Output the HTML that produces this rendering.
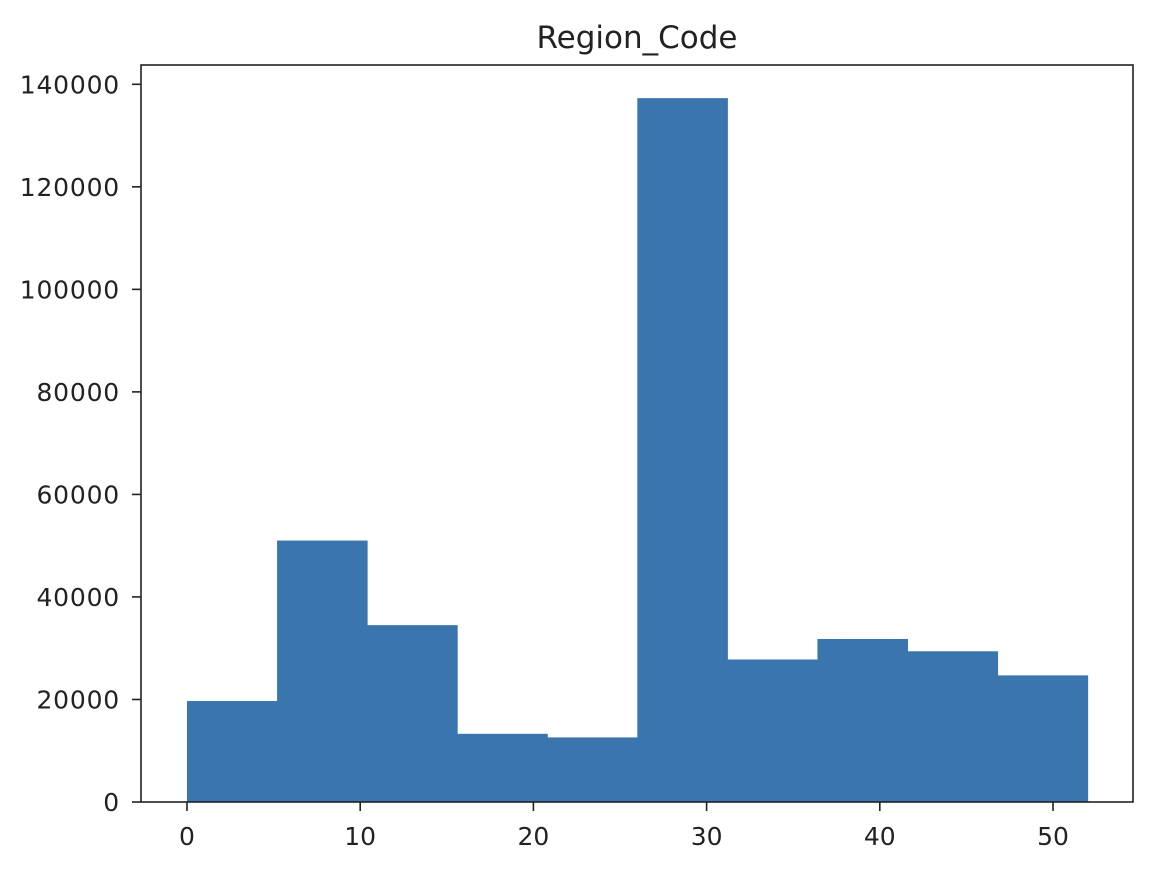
<!DOCTYPE html>
<html><head><meta charset="utf-8"><style>
body{margin:0;background:#fff;font-family:"Liberation Sans","DejaVu Sans",sans-serif}
svg text{font-family:"DejaVu Sans","Liberation Sans",sans-serif;fill:#222}
</style></head><body>
<svg id="c" width="1154" height="874"></svg>
<script>
const binEdges=[0,5.2,10.4,15.6,20.8,26,31.2,36.4,41.6,46.8,52];
const counts=[19700,51000,34500,13300,12600,137300,27800,31800,29400,24700];
const xTicks=[0,10,20,30,40,50];
const yTicks=[0,20000,40000,60000,80000,100000,120000,140000];
const L=141,R=1133,T=65,B=802;
const x=v=>187+v*17.32;
const y=v=>B-v*(B-84.3)/140000;
const svg=document.getElementById('c');
const NS='http://www.w3.org/2000/svg';
function mk(t,a){const e=document.createElementNS(NS,t);for(const k in a)e.setAttribute(k,a[k]);svg.appendChild(e);return e;}
counts.forEach((c,i)=>{
 const r=mk('rect',{x:x(binEdges[i]),y:y(c),width:x(binEdges[i+1])-x(binEdges[i])+0.5,height:B-y(c),fill:'#3a75ae'});
 
 
});
const fr=mk('rect',{x:L,y:T,width:R-L,height:B-T,fill:'none',stroke:'#222','stroke-width':1.6});


xTicks.forEach(v=>{
 mk('line',{x1:x(v),x2:x(v),y1:B,y2:B+9,stroke:'#222','stroke-width':1.6});
 const t=mk('text',{x:x(v),y:B+43,'text-anchor':'middle','font-size':25});
 t.textContent=v;
 
 
});
yTicks.forEach(v=>{
 mk('line',{x1:L-9,x2:L,y1:y(v),y2:y(v),stroke:'#222','stroke-width':1.6});
 const t=mk('text',{x:L-21,y:y(v)+9,'text-anchor':'end','font-size':25,'letter-spacing':0.8});
 t.textContent=v;
 
 
});
const ti=mk('text',{x:(L+R)/2,y:48,'text-anchor':'middle','font-size':31});
ti.textContent='Region_Code';


</script>
</body></html>
